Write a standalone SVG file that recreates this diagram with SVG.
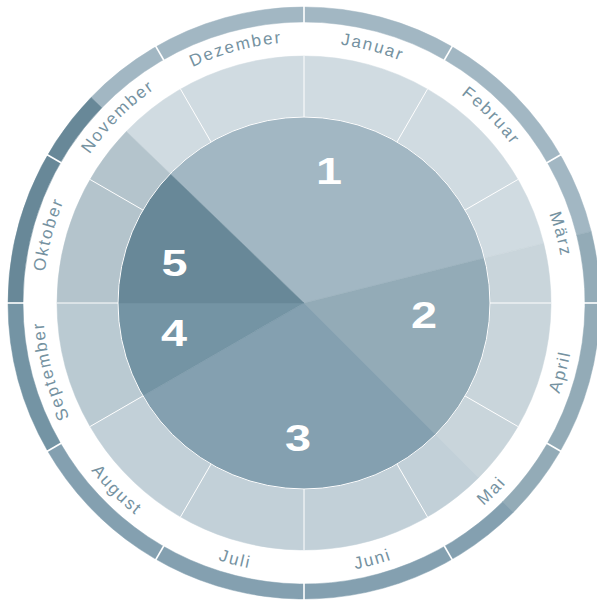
<svg xmlns="http://www.w3.org/2000/svg" width="597" height="601" viewBox="0 0 597 601">
  <style>
    .num { font-family: "Liberation Sans", Arial, sans-serif; font-weight: bold; font-size: 36px; fill: #ffffff; text-anchor: middle; }
    .lbl { font-family: "Liberation Sans", Arial, sans-serif; font-size: 17px; letter-spacing: 1.9px; fill: #7592a1; text-anchor: middle; }
    .sepm { stroke: #ffffff; stroke-width: 1; }
    .sepo { stroke: #ffffff; stroke-width: 1.6; }
    .c1 { fill: #a2b7c3; stroke: #a2b7c3; stroke-width: 0.5; }
    .c2 { fill: #93abb7; stroke: #93abb7; stroke-width: 0.5; }
    .c3 { fill: #84a0b0; stroke: #84a0b0; stroke-width: 0.5; }
    .c4 { fill: #7494a4; stroke: #7494a4; stroke-width: 0.5; }
    .c5 { fill: #688898; stroke: #688898; stroke-width: 0.5; }
    .t1 { fill: #d0dbe1; stroke: #d0dbe1; stroke-width: 0.5; }
    .t2 { fill: #c9d5db; stroke: #c9d5db; stroke-width: 0.5; }
    .t3 { fill: #c2d0d8; stroke: #c2d0d8; stroke-width: 0.5; }
    .t4 { fill: #bacad2; stroke: #bacad2; stroke-width: 0.5; }
    .t5 { fill: #b4c4cc; stroke: #b4c4cc; stroke-width: 0.5; }
  </style>
  <defs>
    <path id="cw" d="M 304 42 A 261 261 0 0 1 304 564 A 261 261 0 0 1 304 42"/>
    <path id="ccw" d="M 304 32 A 271 271 0 0 0 304 574 A 271 271 0 0 0 304 32"/>
  </defs>
  <rect width="597" height="601" fill="#ffffff"/>

  <g id="phase-1">
    <path class="c1" d="M 91.08 97.38 A 296 296 0 0 1 591.21 231.39 L 576.65 235.02 A 281 281 0 0 0 101.87 107.80 Z"/>
    <path class="t1" d="M 126.32 131.42 A 247 247 0 0 1 543.66 243.25 L 484.48 258.00 A 186 186 0 0 0 170.20 173.79 Z"/>
    <path class="c1" d="M 304 303 L 170.20 173.79 A 186 186 0 0 1 484.48 258.00 Z"/>
  </g>
  <g id="phase-2">
    <path class="c2" d="M 591.21 231.39 A 296 296 0 0 1 513.30 512.30 L 502.70 501.70 A 281 281 0 0 0 576.65 235.02 Z"/>
    <path class="t2" d="M 543.66 243.25 A 247 247 0 0 1 478.65 477.65 L 435.52 434.52 A 186 186 0 0 0 484.48 258.00 Z"/>
    <path class="c2" d="M 304 303 L 484.48 258.00 A 186 186 0 0 1 435.52 434.52 Z"/>
  </g>
  <g id="phase-3">
    <path class="c3" d="M 513.30 512.30 A 296 296 0 0 1 47.66 451 L 60.65 443.5 A 281 281 0 0 0 502.70 501.70 Z"/>
    <path class="t3" d="M 478.65 477.65 A 247 247 0 0 1 90.09 426.5 L 142.92 396 A 186 186 0 0 0 435.52 434.52 Z"/>
    <path class="c3" d="M 304 303 L 435.52 434.52 A 186 186 0 0 1 142.92 396 Z"/>
  </g>
  <g id="phase-4">
    <path class="c4" d="M 47.66 451 A 296 296 0 0 1 8 303 L 23 303 A 281 281 0 0 0 60.65 443.5 Z"/>
    <path class="t4" d="M 90.09 426.5 A 247 247 0 0 1 57 303 L 118 303 A 186 186 0 0 0 142.92 396 Z"/>
    <path class="c4" d="M 304 303 L 142.92 396 A 186 186 0 0 1 118 303 Z"/>
  </g>
  <g id="phase-5">
    <path class="c5" d="M 8 303 A 296 296 0 0 1 91.08 97.38 L 101.87 107.80 A 281 281 0 0 0 23 303 Z"/>
    <path class="t5" d="M 57 303 A 247 247 0 0 1 126.32 131.42 L 170.20 173.79 A 186 186 0 0 0 118 303 Z"/>
    <path class="c5" d="M 304 303 L 118 303 A 186 186 0 0 1 170.20 173.79 Z"/>
  </g>

  <g id="month-separators">
    <line class="sepm" x1="304" y1="117" x2="304" y2="56"/>
    <line class="sepm" x1="397" y1="141.92" x2="427.5" y2="89.09"/>
    <line class="sepm" x1="465.08" y1="210" x2="517.91" y2="179.5"/>
    <line class="sepm" x1="490" y1="303" x2="551" y2="303"/>
    <line class="sepm" x1="465.08" y1="396" x2="517.91" y2="426.5"/>
    <line class="sepm" x1="397" y1="464.08" x2="427.5" y2="516.91"/>
    <line class="sepm" x1="304" y1="489" x2="304" y2="550"/>
    <line class="sepm" x1="211" y1="464.08" x2="180.5" y2="516.91"/>
    <line class="sepm" x1="142.92" y1="396" x2="90.09" y2="426.5"/>
    <line class="sepm" x1="118" y1="303" x2="57" y2="303"/>
    <line class="sepm" x1="142.92" y1="210" x2="90.09" y2="179.5"/>
    <line class="sepm" x1="211" y1="141.92" x2="180.5" y2="89.09"/>

    <line class="sepo" x1="304" y1="23" x2="304" y2="6"/>
    <line class="sepo" x1="444" y1="60.51" x2="452.5" y2="45.79"/>
    <line class="sepo" x1="546.49" y1="163" x2="561.21" y2="154.5"/>
    <line class="sepo" x1="584" y1="303" x2="601" y2="303"/>
    <line class="sepo" x1="546.49" y1="443" x2="561.21" y2="451.5"/>
    <line class="sepo" x1="444" y1="545.49" x2="452.5" y2="560.21"/>
    <line class="sepo" x1="304" y1="583" x2="304" y2="600"/>
    <line class="sepo" x1="164" y1="545.49" x2="155.5" y2="560.21"/>
    <line class="sepo" x1="61.51" y1="443" x2="46.79" y2="451.5"/>
    <line class="sepo" x1="24" y1="303" x2="7" y2="303"/>
    <line class="sepo" x1="61.51" y1="163" x2="46.79" y2="154.5"/>
    <line class="sepo" x1="164" y1="60.51" x2="155.5" y2="45.79"/>

    <circle cx="304" cy="303" r="186" fill="none" stroke="#ffffff" stroke-width="1"/>
  </g>

  <g id="phase-numbers">
    <text class="num" transform="translate(329,184) scale(1.3,1)">1</text>
    <text class="num" transform="translate(424,328) scale(1.3,1)">2</text>
    <text class="num" transform="translate(298,451) scale(1.3,1)">3</text>
    <text class="num" transform="translate(174,346) scale(1.3,1)">4</text>
    <text class="num" transform="translate(174.5,276) scale(1.3,1)">5</text>
  </g>

  <g id="month-labels">
    <text class="lbl"><textPath href="#cw" startOffset="4.1667%">Januar</textPath></text>
    <text class="lbl"><textPath href="#cw" startOffset="12.5%">Februar</textPath></text>
    <text class="lbl"><textPath href="#cw" startOffset="20.8333%">März</textPath></text>
    <text class="lbl"><textPath href="#ccw" startOffset="70.8333%">April</textPath></text>
    <text class="lbl"><textPath href="#ccw" startOffset="62.5%">Mai</textPath></text>
    <text class="lbl"><textPath href="#ccw" startOffset="54.1667%">Juni</textPath></text>
    <text class="lbl"><textPath href="#ccw" startOffset="45.8333%">Juli</textPath></text>
    <text class="lbl"><textPath href="#ccw" startOffset="37.5%">August</textPath></text>
    <text class="lbl"><textPath href="#cw" startOffset="70.8333%">September</textPath></text>
    <text class="lbl"><textPath href="#cw" startOffset="79.1667%">Oktober</textPath></text>
    <text class="lbl"><textPath href="#cw" startOffset="87.5%">November</textPath></text>
    <text class="lbl"><textPath href="#cw" startOffset="95.8333%">Dezember</textPath></text>
  </g>
</svg>
